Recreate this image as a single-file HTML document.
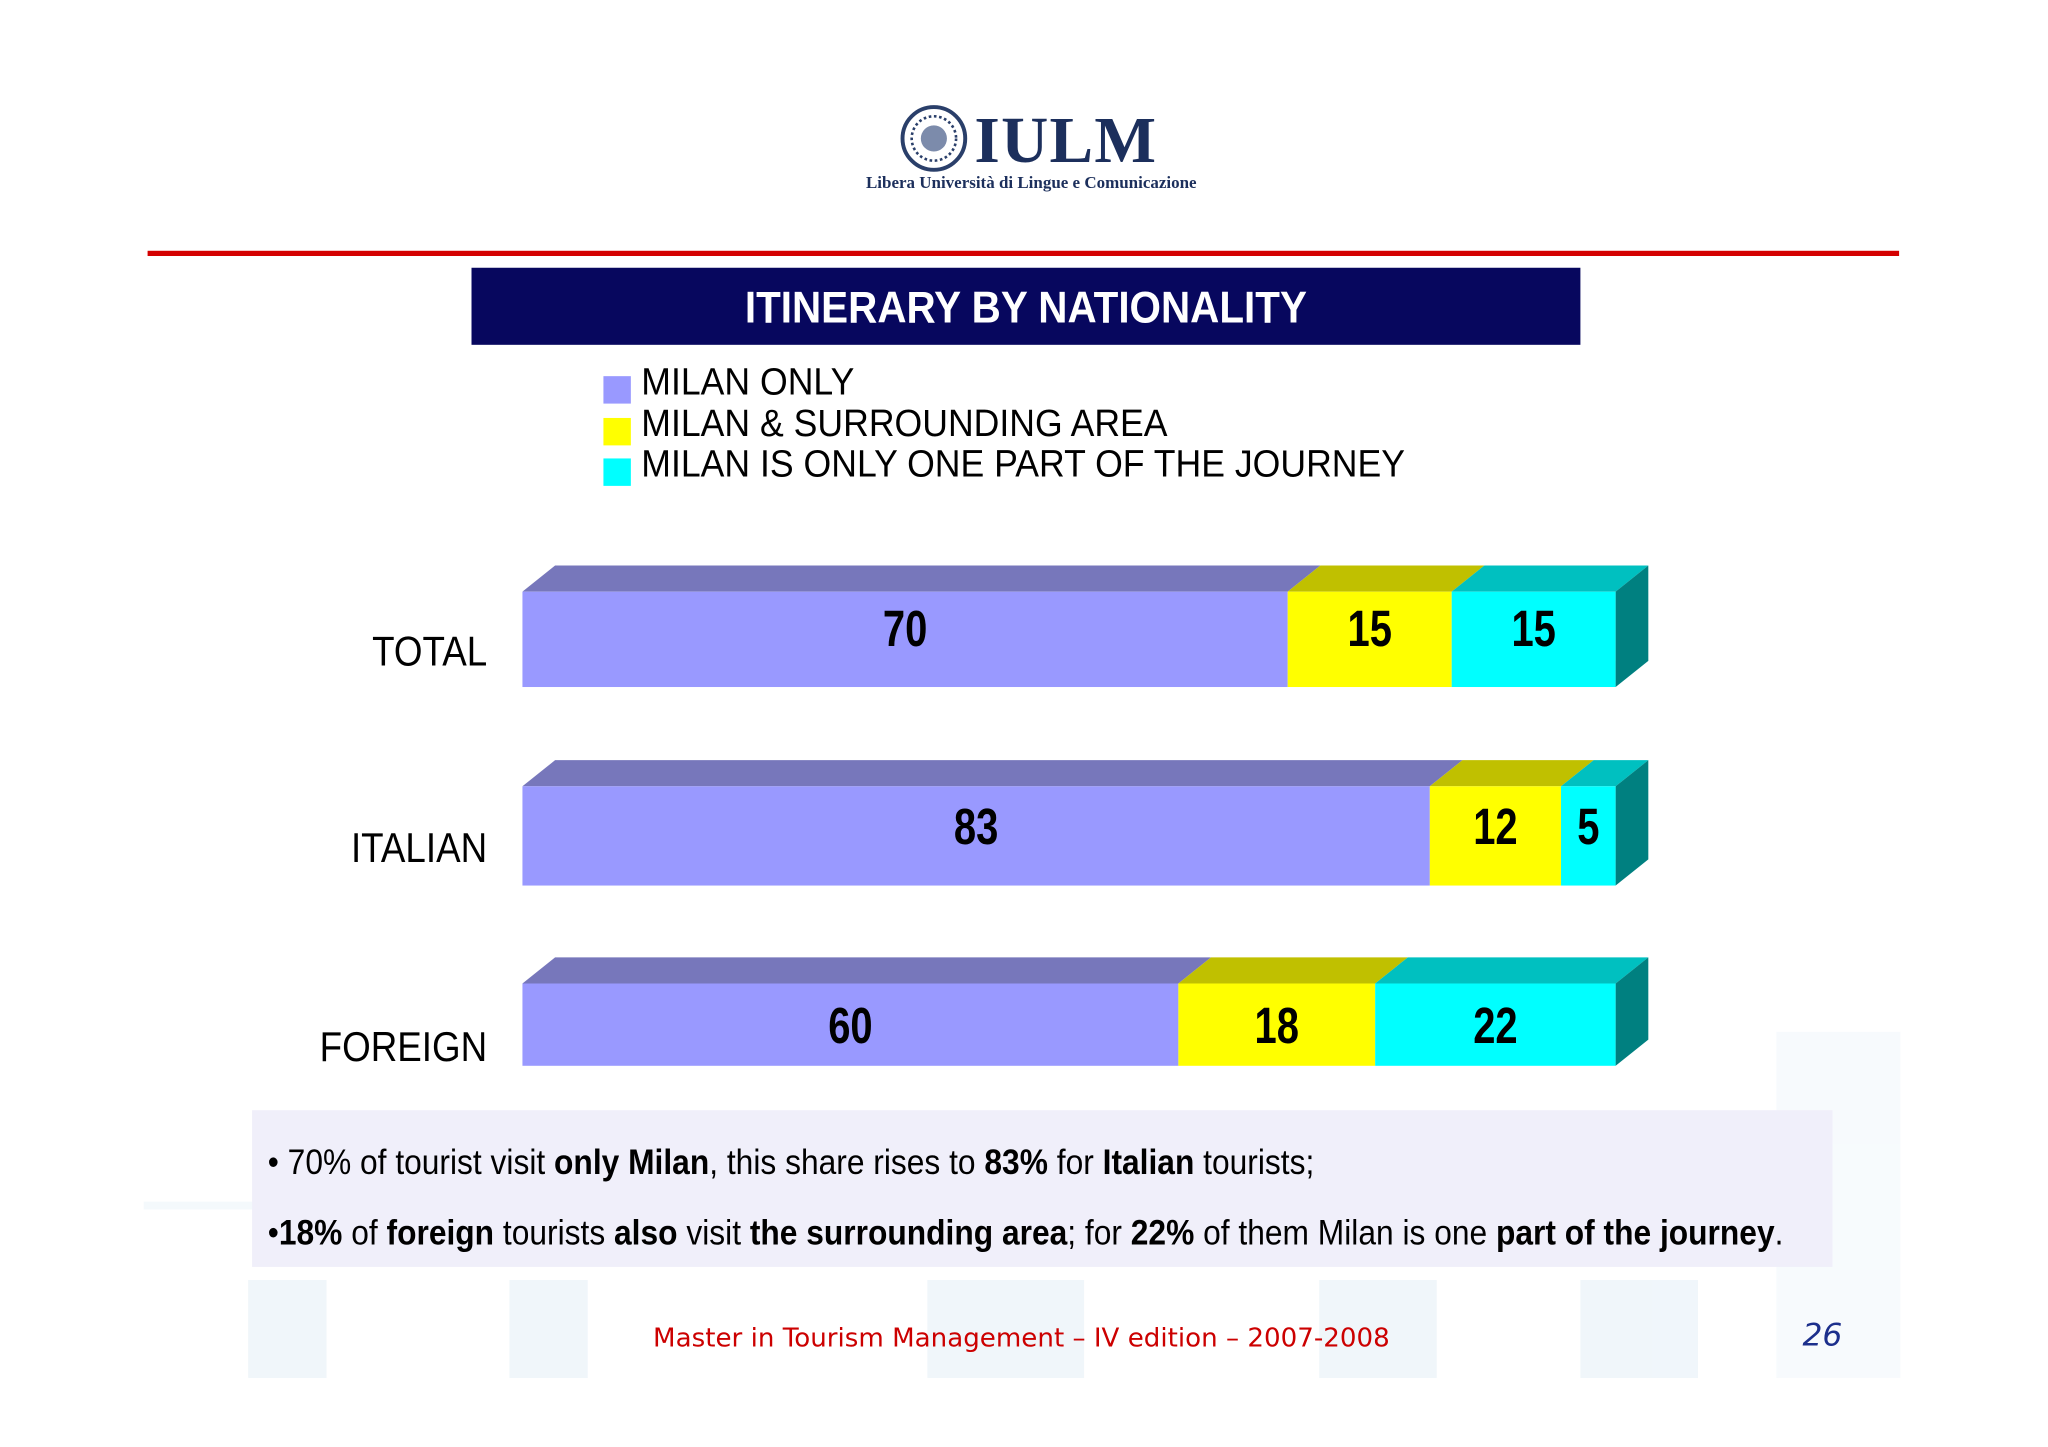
<!DOCTYPE html>
<html><head><meta charset="utf-8">
<style>
html,body{margin:0;padding:0;background:#fff;overflow:hidden}
#wrap{width:1568px;height:1108px;position:relative;transform:scale(1.30612);transform-origin:0 0;font-family:"Liberation Sans",sans-serif}
.abs{position:absolute}
.sq{transform-origin:0 0}
</style></head><body>
<div id="wrap">
  <div class="abs" style="left:110px;top:790px;width:1345px;height:270px;opacity:0.22">
    <div class="abs" style="left:0;top:130px;width:1345px;height:6px;background:#cfe3f0"></div>
    <div class="abs" style="left:80px;top:190px;width:60px;height:75px;background:#b9d6ea"></div>
    <div class="abs" style="left:280px;top:190px;width:60px;height:75px;background:#b9d6ea"></div>
    <div class="abs" style="left:600px;top:190px;width:120px;height:75px;background:#b9d6ea"></div>
    <div class="abs" style="left:900px;top:190px;width:90px;height:75px;background:#b9d6ea"></div>
    <div class="abs" style="left:1100px;top:190px;width:90px;height:75px;background:#b9d6ea"></div>
    <div class="abs" style="left:1250px;top:0px;width:95px;height:265px;background:#dbeaf4"></div>
  </div>

  <svg class="abs" style="left:688px;top:80px" width="54" height="52">
    <circle cx="27" cy="26" r="24" fill="#fff" stroke="#2a3f6a" stroke-width="3"/>
    <circle cx="27" cy="26" r="17" fill="none" stroke="#2a3f6a" stroke-width="2" stroke-dasharray="2 2"/>
    <circle cx="27" cy="26" r="10" fill="#7c8bab"/>
  </svg>
  <div class="abs" style="left:746px;top:78px;font-family:'Liberation Serif',serif;font-weight:bold;font-size:50px;color:#1c2f5c;letter-spacing:1px">IULM</div>
  <div class="abs" style="left:663px;top:132px;font-family:'Liberation Serif',serif;font-weight:bold;font-size:13px;color:#1c2f5c">Libera Università di Lingue e Comunicazione</div>

  <div class="abs" style="left:113px;top:192px;width:1341px;height:4px;background:#d40000"></div>

  <div class="abs" style="left:361px;top:205px;width:849px;height:59px;background:#07075e;color:#fff;font-weight:bold;font-size:34px;line-height:62px;text-align:center"><span style="display:inline-block;transform:scaleX(0.91)">ITINERARY BY NATIONALITY</span></div>

  <div id="legend" class="abs" style="left:462px;top:278px;font-size:29px;color:#000"></div>

  <svg id="chart" class="abs" style="left:0;top:0" width="1568" height="840"></svg>

  <div class="abs" style="left:193px;top:850px;width:1210px;height:120px;background:#f0effa;font-size:27px;color:#000">
    <div class="abs sq" style="left:12px;top:25px;white-space:nowrap;transform:scaleX(0.9)">• 70% of tourist visit <b>only Milan</b>, this share rises to <b>83%</b> for <b>Italian</b> tourists;</div>
    <div class="abs sq" style="left:12px;top:79px;white-space:nowrap;transform:scaleX(0.9)">•<b>18%</b> of <b>foreign</b> tourists <b>also</b> visit <b>the surrounding area</b>; for <b>22%</b> of them Milan is one <b>part of the journey</b>.</div>
  </div>

  <div class="abs" style="left:500px;top:1012px;font-family:'DejaVu Sans',sans-serif;font-size:20px;color:#cc0000">Master in Tourism Management – IV edition – 2007-2008</div>
  <div class="abs" style="left:1380px;top:1008px;font-family:'DejaVu Sans',sans-serif;font-style:italic;font-size:24px;color:#1c2f8c">26</div>
</div>
<script>
const categories = ["TOTAL","ITALIAN","FOREIGN"];
const milanOnly = [70,83,60];
const surrounding = [15,12,18];
const partJourney = [15,5,22];
const seriesNames = ["MILAN ONLY","MILAN & SURROUNDING AREA","MILAN IS ONLY ONE PART OF THE JOURNEY"];

const front = ["#9999ff","#ffff00","#00ffff"], top3 = ["#7777bb","#c0c000","#00c0c0"], side = "#008080";
const X0 = 400, W = 837, DX = 25, DY = 20;
const barTop = [453,602,753], barH = [73,76,63];
const xs = v => X0 + v / 100 * W;
const NS = "http://www.w3.org/2000/svg";
const svg = document.getElementById("chart");
function mk(tag, attrs){const e=document.createElementNS(NS,tag);for(const k in attrs)e.setAttribute(k,attrs[k]);svg.appendChild(e);return e;}

const legend = document.getElementById("legend");
seriesNames.forEach((n,i)=>{
  const row = document.createElement("div");
  row.style.cssText = "position:relative;height:31.5px;line-height:31.5px;padding-left:29px;white-space:nowrap";
  
  
  row.innerHTML = '<span style="position:absolute;left:0;top:10px;width:21px;height:21px;background:'+front[i]+'"></span><span style="display:inline-block;transform:scaleX(0.94);transform-origin:0 0">'+n+'</span>';
  legend.appendChild(row);
});

categories.forEach((c,ci)=>{
  const vals = [milanOnly[ci], surrounding[ci], partJourney[ci]];
  const y = barTop[ci], h = barH[ci];
  let cum = 0;
  vals.forEach((v,si)=>{
    const x1 = xs(cum), x2 = xs(cum+v);
    const t = mk("polygon",{points:`${x1},${y} ${x1+DX},${y-DY} ${x2+DX},${y-DY} ${x2},${y}`,fill:top3[si]});
    
    
    const r = mk("rect",{x:x1,y:y,width:x2-x1,height:h,fill:front[si]});
    
    
    const tx = mk("text",{transform:`translate(${(x1+x2)/2},${y+h/2+(ci==0?5:(ci==1?6:14))}) scale(0.85,1.08)`,"text-anchor":"middle","font-family":"Liberation Sans, sans-serif","font-weight":"bold","font-size":"36"});
    tx.textContent = v;
    
    
    cum += v;
  });
  const xe = xs(cum);
  const s = mk("polygon",{points:`${xe},${y} ${xe+DX},${y-DY} ${xe+DX},${y+h-DY} ${xe},${y+h}`,fill:side});
  
  
  const lb = mk("text",{transform:`translate(373,${y+h/2+(ci==2?28:20)}) scale(0.88,1)`,"text-anchor":"end","font-family":"Liberation Sans, sans-serif","font-size":"32"});
  lb.textContent = c;
  
  
});
</script>
</body></html>
